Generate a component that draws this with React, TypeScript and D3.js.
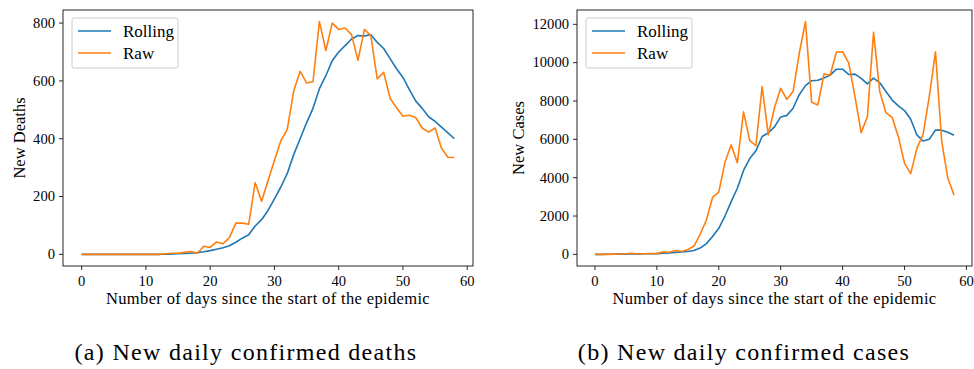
import React from 'react'
import * as d3 from 'd3'

// day index 0..58
const days = d3.range(0, 59)

const deathsRaw = [
  0, 0, 0, 0, 0, 0, 0, 0, 0, 0, 0, 0, 0, 2, 4, 4, 7, 10, 4, 28,
  24, 43, 37, 58, 108, 108, 104, 248, 184, 255, 325, 393, 432, 565, 633, 593, 597, 805, 705, 800,
  778, 783, 760, 671, 778, 757, 607, 630, 540, 507, 478, 481, 473, 437, 423, 437, 367, 336, 335
]
const deathsRolling = [
  0, 0, 0, 0, 0, 0, 0, 0, 0, 0, 0, 0, 0, 1, 1, 2, 3, 4, 6, 9,
  13, 18, 23, 30, 42, 56, 68, 98, 120, 152, 192, 233, 280, 345, 400, 455, 505, 573, 618, 670,
  700, 722, 745, 757, 755, 760, 733, 712, 677, 642, 612, 570, 530, 505, 476, 460, 440, 420, 400
]
const casesRaw = [
  0, 0, 0, 10, 20, 30, 60, 20, 30, 40, 50, 120, 110, 200, 150, 250, 435, 1050, 1790, 2970,
  3250, 4800, 5720, 4780, 7430, 5930, 5670, 8750, 6230, 7650, 8660, 8090, 8490, 10490, 12140, 7930, 7790, 9410, 9360, 10560,
  10570, 9970, 8230, 6350, 7180, 11580, 8490, 7390, 7150, 6140, 4750, 4210, 5530, 6260, 8230, 10570, 5910, 3970, 3100
]
const casesRolling = [
  0, 0, 5, 8, 12, 18, 25, 28, 30, 35, 40, 60, 80, 100, 120, 150, 200, 330, 560, 930,
  1360, 2000, 2750, 3450, 4380, 5000, 5400, 6150, 6330, 6650, 7170, 7250, 7620, 8330, 8800, 9060, 9080, 9200, 9350, 9660,
  9660, 9380, 9400, 9180, 8890, 9190, 8950, 8500, 8050, 7750, 7500, 7050, 6230, 5910, 6000, 6490, 6480, 6370, 6210
]

const deathTicks = [0, 200, 400, 600, 800]
const caseTicks = [0, 2000, 4000, 6000, 8000, 10000, 12000]
const dayTicks = [0, 10, 20, 30, 40, 50, 60]

const seriesNames = ['Rolling', 'Raw']
const colors = ['#1f77b4', '#ff7f0e']
const font = '"Liberation Serif", "DejaVu Serif", serif'

type PanelProps = {
  left: number
  right: number
  top: number
  bottom: number
  rolling: number[]
  raw: number[]
  yTicks: number[]
  yLabel: string
  yLabelX: number
  caption: string
  captionX: number
}

function Panel(p: PanelProps) {
  const all = p.rolling.concat(p.raw)
  const yMin = d3.min(all) as number
  const yMax = d3.max(all) as number
  const padY = (yMax - yMin) * 0.05
  const padX = 58 * 0.05

  const x = d3.scaleLinear().domain([-padX, 58 + padX]).range([p.left, p.right])
  const y = d3.scaleLinear().domain([yMin - padY, yMax + padY]).range([p.bottom, p.top])

  const line = d3.line<number>()
    .x((d, i) => x(days[i]))
    .y(d => y(d))

  const cx = (p.left + p.right) / 2
  const lgX = p.left + 9
  const lgY = p.top + 8

  return (
    <g fontFamily={font} fill="#000">
      <defs>
        <clipPath id={'clip' + p.left}>
          <rect x={p.left} y={p.top} width={p.right - p.left} height={p.bottom - p.top} />
        </clipPath>
      </defs>
      <g clipPath={'url(#clip' + p.left + ')'}>
        {[p.rolling, p.raw].map((s, k) => (
          <path key={k} d={line(s) || ''} fill="none" stroke={colors[k]} strokeWidth={1.6} strokeLinejoin="round" />
        ))}
      </g>
      <rect x={p.left} y={p.top} width={p.right - p.left} height={p.bottom - p.top}
        fill="none" stroke="#111" strokeWidth={0.9} />
      {dayTicks.map(t => (
        <g key={t} transform={`translate(${x(t)},${p.bottom})`}>
          <line y2={4} stroke="#111" strokeWidth={0.9} />
          <text y={20} textAnchor="middle" fontSize={14.6}>{t}</text>
        </g>
      ))}
      {p.yTicks.map(t => (
        <g key={t} transform={`translate(${p.left},${y(t)})`}>
          <line x2={-4} stroke="#111" strokeWidth={0.9} />
          <text x={-8} dy="0.33em" textAnchor="end" fontSize={14.6}>{t}</text>
        </g>
      ))}
      <text x={cx} y={p.bottom + 38} textAnchor="middle" fontSize={16.5} letterSpacing={0.35}>
        Number of days since the start of the epidemic
      </text>
      <text transform={`translate(${p.yLabelX},${(p.top + p.bottom) / 2}) rotate(-90)`}
        textAnchor="middle" fontSize={16.5}>{p.yLabel}</text>
      <g transform={`translate(${lgX},${lgY})`}>
        <rect width={106} height={50} rx={2} fill="#fff" fillOpacity={0.8} stroke="#ccc" strokeWidth={1} />
        {seriesNames.map((n, k) => (
          <g key={n} transform={`translate(0,${13 + k * 22})`}>
            <line x1={6} x2={39} stroke={colors[k]} strokeWidth={1.6} />
            <text x={51} dy="0.35em" fontSize={17}>{n}</text>
          </g>
        ))}
      </g>
      <text x={p.captionX} y={360} textAnchor="middle" fontSize={24} letterSpacing={1.3}>{p.caption}</text>
    </g>
  )
}

export default function App() {
  return (
    <svg width={974} height={369} style={{ position: 'absolute', left: 0, top: 0, background: '#fff' }}>
      <rect width={974} height={369} fill="#fff" />
      <Panel left={63} right={473} top={10} bottom={266}
        rolling={deathsRolling} raw={deathsRaw} yTicks={deathTicks}
        yLabel="New Deaths" yLabelX={25} caption="(a) New daily confirmed deaths" captionX={246} />
      <Panel left={577} right={972} top={10} bottom={266}
        rolling={casesRolling} raw={casesRaw} yTicks={caseTicks}
        yLabel="New Cases" yLabelX={523.5} caption="(b) New daily confirmed cases" captionX={744} />
    </svg>
  )
}
